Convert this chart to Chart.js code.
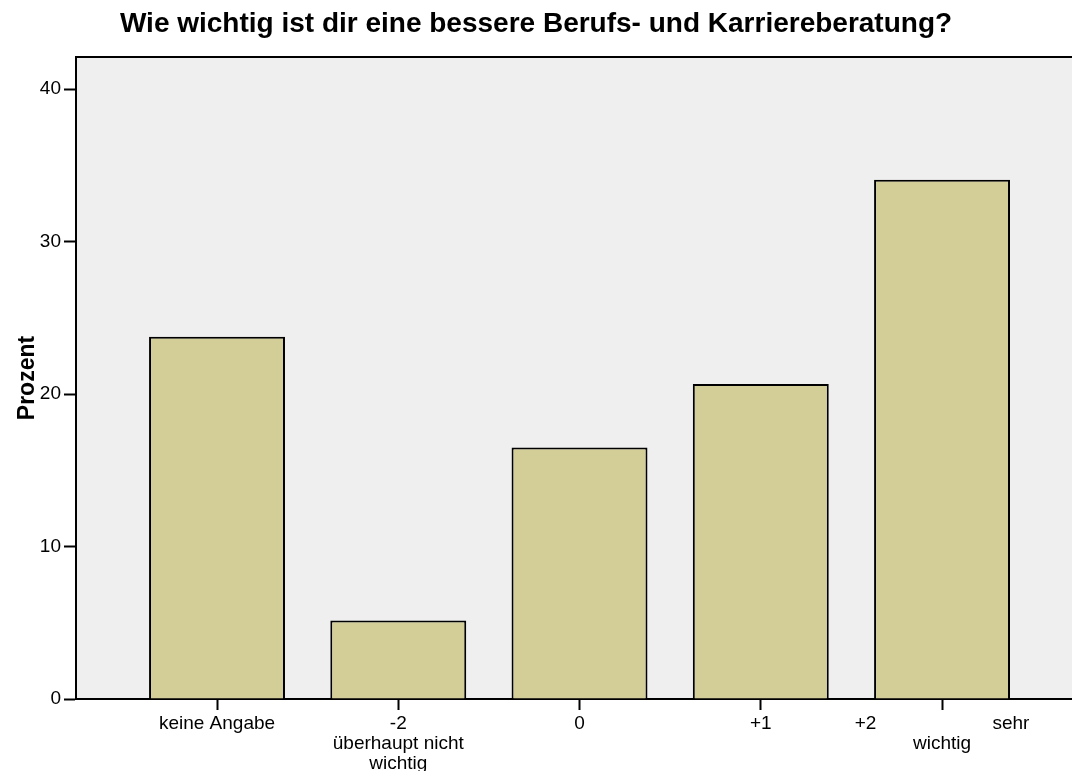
<!DOCTYPE html>
<html>
<head>
<meta charset="utf-8">
<script src="https://cdn.jsdelivr.net/npm/chart.js@4.4.1/dist/chart.umd.min.js"></script>
<style>
  body { margin: 0; background: #fff; }
  #wrap { width: 1072px; height: 771px; }
</style>
</head>
<body>
<div id="wrap"><canvas id="chart" width="1072" height="771"></canvas></div>
<script>
const categories = [
    ["keine Angabe"],
    ["-2", "überhaupt nicht", "wichtig"],
    ["0"],
    ["+1"],
    ["+2                      sehr", "wichtig"]
];
const percentValues = [23.75, 5.14, 16.5, 20.65, 34.05];
const yTicks = [0, 10, 20, 30, 40];

const fontFamily = "'Liberation Sans', Arial, sans-serif";

// grey plot background with a line on top
const plotBackground = {
    id: 'plotBackground',
    beforeDraw(chart) {
        const ctx = chart.ctx;
        const a = chart.chartArea;
        ctx.save();
        ctx.fillStyle = '#efefef';
        ctx.fillRect(a.left, a.top, a.right - a.left, a.bottom - a.top);
        ctx.strokeStyle = '#000';
        ctx.lineWidth = 2;
        ctx.beginPath();
        ctx.moveTo(a.left - 1, a.top);
        ctx.lineTo(a.right, a.top);
        ctx.stroke();
        ctx.restore();
    }
};

const ctx = document.getElementById("chart").getContext("2d");

const chartData = {
    datasets: [{
        label: 'Prozent',
        data: percentValues.map((v, i) => ({ x: i + 1, y: v })),
        backgroundColor: '#d3ce98',
        borderColor: '#000',
        borderWidth: 2,
        barPercentage: 0.75,
        categoryPercentage: 1
    }]
};

const myChart = new Chart(ctx, {
    type: 'bar',
    data: chartData,
    options: {
        responsive: false,
        animation: false,
        layout: { padding: 0 },
        plugins: {
            legend: { display: false },
            tooltip: { enabled: false },
            title: {
                display: true,
                text: 'Wie wichtig ist dir eine bessere Berufs- und Karriereberatung?',
                color: '#000',
                font: { family: fontFamily, size: 28, weight: 'bold', lineHeight: 1.2 },
                padding: { top: 7, bottom: 16.4 }
            }
        },
        scales: {
            x: {
                type: 'linear',
                offset: false,
                min: 0.222,
                max: 5.717,
                afterBuildTicks: scale => {
                    scale.ticks = categories.map((c, i) => ({ value: i + 1 }));
                },
                afterFit: scale => { scale.height = 72; },
                border: { display: true, color: '#000', width: 2 },
                grid: {
                    offset: false,
                    drawOnChartArea: false,
                    drawTicks: true,
                    tickLength: 11,
                    tickColor: '#000',
                    tickWidth: 2
                },
                ticks: {
                    autoSkip: false,
                    maxRotation: 0,
                    padding: 4,
                    color: '#000',
                    font: { family: fontFamily, size: 19, lineHeight: 1.05 },
                    callback: value => categories[Math.round(value) - 1] || ''
                }
            },
            y: {
                min: 0,
                max: 42.1,
                afterBuildTicks: scale => {
                    scale.ticks = yTicks.map(v => ({ value: v }));
                },
                afterFit: scale => { scale.width = 76; },
                border: { display: true, color: '#000', width: 2 },
                grid: {
                    drawOnChartArea: false,
                    drawTicks: true,
                    tickLength: 12,
                    tickColor: '#000',
                    tickWidth: 2
                },
                ticks: {
                    padding: 3,
                    color: '#000',
                    font: { family: fontFamily, size: 19 }
                },
                title: {
                    display: true,
                    text: 'Prozent',
                    color: '#000',
                    font: { family: fontFamily, size: 23, weight: 'bold' },
                    padding: { top: 14, bottom: 0 }
                }
            }
        }
    },
    plugins: [plotBackground]
});
</script>
</body>
</html>
